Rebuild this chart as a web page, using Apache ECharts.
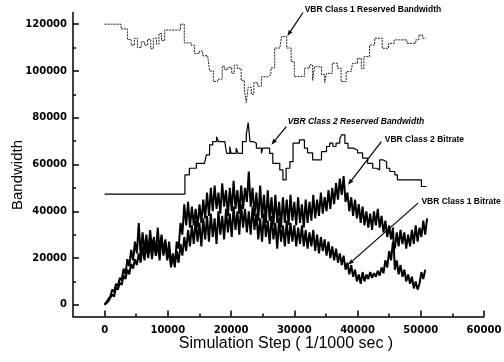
<!DOCTYPE html>
<html><head><meta charset="utf-8">
<script src="https://cdn.jsdelivr.net/npm/echarts@6/dist/echarts.min.js"></script>
<style>html,body{margin:0;padding:0;background:#fff}#c{width:504px;height:362px}</style>
</head><body><div id="c"></div>
<script>
// ---- tick values ----
const xTickValues = [0, 10000, 20000, 30000, 40000, 50000, 60000];
const xMinorTicks = [5000, 15000, 25000, 35000, 45000, 55000];
const yTickValues = [0, 20000, 40000, 60000, 80000, 100000, 120000];
const yMinorTicks = [10000, 30000, 50000, 70000, 90000, 110000];

// ---- VBR Class 1 Reserved Bandwidth (step line: level starts at step) ----
const res1Steps = [0,2600,3600,4200,4700,5200,5800,6300,6800,7300,
  7700,8200,8600,9000,9500,12000,12600,13700,14200,15000,
  15500,16300,16600,17200,17900,18600,19000,19500,20100,20500,
  21000,21600,22100,22400,22700,23200,23600,24200,24800,25800,
  26300,26900,27700,28000,28800,29500,30000,31600,32400,32900,
  33200,34300,34800,35100,36000,36800,37400,38200,39000,39200,
  40000,40600,41000,41900,42700,43900,44900,45800,47800,49200,
  49700,50300,50800];
const res1Values = [120000,118000,113500,111000,114000,110000,112500,111000,113500,109500,
  114000,111500,116000,113000,117500,120000,112000,111000,107500,108500,
  106500,106000,100000,95500,96500,102000,100500,101500,99000,102500,
  101000,96000,92000,86500,93000,90000,95000,93500,97500,98300,
  101300,109800,110400,114700,109800,104000,97600,101200,102600,96000,
  101800,98500,95000,99000,103300,101200,95500,99700,100500,103300,
  105400,101000,106100,111100,114000,109700,111800,113300,111800,113300,
  115400,114000,114000];

// ---- VBR Class 2 Reserved Bandwidth ----
const res2Steps = [0,12700,13400,14500,15800,16100,16600,17100,17700,18000,
  19000,19300,19800,20000,20800,21100,21800,22400,22700,23000,
  23500,24000,24800,25000,26100,26600,27700,28200,28700,29300,
  29800,30800,31600,32100,32900,34300,35100,35600,36100,36600,
  37200,37500,38000,38500,39300,40000,40800,41600,42400,43000,
  43500,44000,44600,45100,45900,46300,50100,50900];
const res2Values = [47300,55600,58400,60500,61200,64100,68400,69800,71900,69800,
  69100,64800,67700,64800,67000,64800,69800,72700,77900,69800,
  69100,67000,64800,67000,64800,60500,57700,53400,58400,61200,
  69100,70500,67000,65000,62000,65500,67700,69100,67700,69100,
  71200,72700,69000,67000,66200,65000,62700,60500,58400,57700,
  62000,61200,58400,57000,55600,53400,50600,50600];

// ---- bitrate samples, one value every bitrateSampleSpacing steps ----
const bitrateSampleSpacing = 300;
const class2Bitrate = [0,800,2500,3500,6500,5500,9000,8000,11500,10500,
  15500,13000,19500,16500,23500,19000,27000,22000,35000,21000,
  31000,23000,30000,22000,32000,24000,29000,21000,33000,23000,
  30000,22000,28000,20000,27000,17000,22000,16000,27000,24000,
  35000,30000,43000,34000,44000,33000,42000,34000,41000,33000,
  43000,35000,45000,37000,48000,38000,50000,40000,51000,41000,
  48000,39000,52000,42000,49000,38000,50000,40000,53000,41000,
  49000,39000,51000,41000,50000,44000,57000,42000,50000,38000,
  48000,36000,51000,37000,47000,35000,49000,36000,46000,34000,
  47000,35000,44000,33000,46000,35000,45000,34000,47000,36000,
  44000,34000,46000,35000,43000,33000,45000,35000,44000,36000,
  47000,37000,45000,38000,48000,39000,46000,40000,49000,41000,
  50000,43000,52000,45000,54000,47000,55000,44000,48000,40000,
  46000,38000,45000,37000,43000,35000,42000,34000,40000,33000,
  39000,32000,40000,34000,41000,33000,38000,31000,36000,29000,
  34000,28000,33000,15000,19000,13000,17000,12000,15000,10000,
  13000,9000,12000,7000,10000,6500,9000,14000,11000,15000];
const class1Bitrate = [0,500,1500,2200,4500,3500,7500,6500,9500,8500,
  12500,11000,15000,13000,17500,15500,19500,17000,22000,18000,
  25000,19000,26000,20000,27000,19500,28000,21000,26000,19000,
  29000,21000,27000,19000,24000,16000,21000,17000,23000,18000,
  26000,21000,29000,23000,32000,25000,34000,26000,36000,27000,
  35000,25000,37000,28000,38000,27000,39000,29000,37000,26000,
  40000,30000,38000,28000,41000,31000,39000,29000,42000,32000,
  40000,30000,43000,33000,41000,31000,40000,30000,42000,32000,
  39000,28000,37000,27000,39000,29000,36000,26000,38000,28000,
  35000,24000,37000,27000,34000,25000,36000,26000,35000,27000,
  34000,25000,33000,26000,34000,25000,32000,24000,31000,25000,
  32000,23000,30000,22000,29000,23000,28000,21000,27000,20000,
  25000,19000,24000,18000,22000,17000,21000,15000,18000,13000,
  17000,12000,15000,10000,13000,9000,14000,10000,13000,11000,
  14000,11500,13500,12000,14500,12500,16000,13500,19000,16000,
  23000,19000,27000,24000,31000,25000,32000,26000,31000,24000,
  30000,25000,32000,26000,34000,27000,33000,29000,36000,30000,37000];

// ---- annotations: text, text anchor (left-middle), arrow tail, arrow head — in data units ----
const annotationTexts = ['VBR Class 1 Reserved Bandwidth','VBR Class 2 Reserved Bandwidth','VBR Class 2 Bitrate','VBR Class 1 Bitrate'];
const annotationAnchors = [[31640,126100],[28950,78200],[44300,70500],[50100,44150]];
const annotationTails = [[31370,125000],[28740,76200],[43770,69800],[49570,43470]];
const annotationHeads = [[28900,114900],[26370,68400],[38490,51300],[38490,17100]];
const annotationItalic = [false,true,false,false];

const pairs = (xs, ys) => xs.map((x, i) => [x, ys[i]]);
const sampled = (ys) => ys.map((y, i) => [i * bitrateSampleSpacing, y]);

const chart = echarts.init(document.getElementById('c'));
const tickFont = {fontFamily:'DejaVu Sans', fontWeight:'bold', fontSize:10, color:'#000'};
const axisStroke = {color:'#000', width:1.5};
const plain = v => String(v);

chart.setOption({
  animation:false,
  backgroundColor:'#fff',
  grid:{left:73, right:20, top:12.5, bottom:45.5, containLabel:false, outerBoundsMode:'none'},
  xAxis:[{
    type:'value', min:-5000, max:60000, position:'bottom',
    axisLine:{show:true, onZero:false, lineStyle:axisStroke},
    axisTick:{show:true, inside:true, length:6, customValues:xTickValues, lineStyle:axisStroke},
    axisLabel:Object.assign({show:true, customValues:xTickValues, margin:9, formatter:plain, hideOverlap:false}, tickFont),
    splitLine:{show:false},
    name:'Simulation Step ( 1/1000 sec )', nameLocation:'middle', nameGap:19, nameMoveOverlap:false,
    nameTextStyle:{fontFamily:'Liberation Sans', fontSize:16, color:'#000', padding:[0,0,0,15]}
  },{
    type:'value', min:-5000, max:60000, position:'bottom',
    axisLine:{show:false, onZero:false},
    axisTick:{show:true, inside:true, length:3, customValues:xMinorTicks, lineStyle:axisStroke},
    axisLabel:{show:false}, splitLine:{show:false}
  }],
  yAxis:[{
    type:'value', min:-5000, max:125000, position:'left',
    axisLine:{show:true, onZero:false, lineStyle:axisStroke},
    axisTick:{show:true, inside:true, length:6, customValues:yTickValues, lineStyle:axisStroke},
    axisLabel:Object.assign({show:true, customValues:yTickValues, margin:6, formatter:plain, hideOverlap:false}, tickFont),
    splitLine:{show:false}
  },{
    type:'value', min:-5000, max:125000, position:'left',
    axisLine:{show:false, onZero:false},
    axisTick:{show:true, inside:true, length:3, customValues:yMinorTicks, lineStyle:axisStroke},
    axisLabel:{show:false}, splitLine:{show:false}
  }],
  series:[
    {name:'VBR Class 1 Reserved Bandwidth', type:'line', step:'end', showSymbol:false, symbol:'none',
     data:pairs(res1Steps, res1Values), lineStyle:{color:'#222', width:1, type:[2,1]}},
    {name:'VBR Class 2 Reserved Bandwidth', type:'line', step:'end', showSymbol:false, symbol:'none',
     data:pairs(res2Steps, res2Values), lineStyle:{color:'#000', width:1.2}},
    {name:'VBR Class 2 Bitrate', type:'line', showSymbol:false, symbol:'none',
     data:sampled(class2Bitrate), lineStyle:{color:'#000', width:2}},
    {name:'VBR Class 1 Bitrate', type:'line', showSymbol:false, symbol:'none',
     data:sampled(class1Bitrate), lineStyle:{color:'#000', width:2}}
  ]
});

// y-axis title and annotations (annotation positions go through the chart's own scales)
const g = [{type:'text', x:18, y:175, rotation:Math.PI/2, z:100,
  style:{text:'Bandwidth', fill:'#000', font:'15px "Liberation Sans"',
         align:'center', verticalAlign:'middle', textAlign:'center', textVerticalAlign:'middle'}}];
annotationTexts.forEach((t, i) => {
  const p = chart.convertToPixel({gridIndex:0}, annotationAnchors[i]);
  g.push({type:'text', x:p[0], y:p[1], z:100, style:{text:t, fill:'#000',
    font:(annotationItalic[i] ? 'italic ' : '') + 'bold 8.5px "Liberation Sans"',
    align:'left', verticalAlign:'middle', textAlign:'left', textVerticalAlign:'middle'}});
  const a = chart.convertToPixel({gridIndex:0}, annotationTails[i]);
  const b = chart.convertToPixel({gridIndex:0}, annotationHeads[i]);
  const dx = b[0]-a[0], dy = b[1]-a[1], L = Math.hypot(dx, dy), ux = dx/L, uy = dy/L;
  const hl = 6, hw = 2.2;
  const bx = b[0]-ux*hl, by = b[1]-uy*hl;
  g.push({type:'line', z:100, shape:{x1:a[0], y1:a[1], x2:bx, y2:by}, style:{stroke:'#000', lineWidth:1.2}});
  g.push({type:'polygon', z:100, shape:{points:[[b[0],b[1]],[bx-uy*hw, by+ux*hw],[bx+uy*hw, by-ux*hw]]}, style:{fill:'#000'}});
});
chart.setOption({graphic:g});
</script>
</body></html>
